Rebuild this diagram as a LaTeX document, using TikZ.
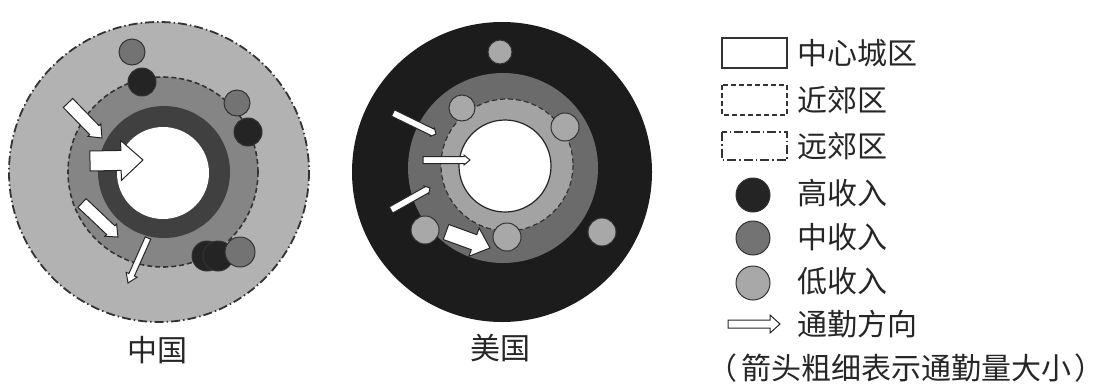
\documentclass[tikz,border=0pt]{standalone}
\usepackage{fontspec}
\newfontfamily\cjk{Noto Sans CJK SC}
\definecolor{fargray}{gray}{0.70}
\definecolor{neargray}{gray}{0.52}
\definecolor{citydark}{gray}{0.25}
\definecolor{hiinc}{gray}{0.14}
\definecolor{midinc}{gray}{0.45}
\definecolor{lowinc}{gray}{0.66}
\definecolor{usouter}{gray}{0.11}
\definecolor{usmid}{gray}{0.42}
\definecolor{usinner}{gray}{0.64}
\tikzset{
  arrowst/.style={fill=white, draw=black!85, line width=1pt, line join=miter},
  lbl/.style={font=\cjk\fontsize{30}{34}\selectfont, inner sep=0pt, text=black!85},
  incst/.style={draw=black!80, line width=1pt},
  farline/.style={draw=black!80, line width=1.8pt, dash pattern=on 9pt off 3pt on 1.5pt off 3pt},
  nearline/.style={draw=black!80, line width=1.6pt, dash pattern=on 5pt off 3pt},
  legbox/.style={draw=black!80, line width=1.8pt},
}
% x1 y1 x2 y2 shaft-half-width head-half-width head-length
\newcommand\fatarr[7]{%
  \pgfmathsetmacro\myang{atan2(-(#4-#2),#3-#1)}%
  \pgfmathsetmacro\mylen{veclen(#3-#1,#4-#2)}%
  \pgfmathsetmacro\mybase{\mylen-#7}%
  \begin{scope}[shift={(#1,#2)}, rotate=\myang]
    \draw[arrowst] (0,-#5) -- (\mybase,-#5) -- (\mybase,-#6) -- (\mylen,0)
      -- (\mybase,#6) -- (\mybase,#5) -- (0,#5) -- cycle;
  \end{scope}}
\begin{document}
\begin{tikzpicture}[x=1pt,y=-1pt]
\useasboundingbox (0,0) rectangle (1107,389);
% ---------- China ----------
\coordinate (cnO) at (159,172);
\coordinate (cnN) at (163,172);
\coordinate (cnC) at (164,172);
\fill[fargray] (cnO) circle (150);
\draw[farline] (cnO) circle (150);
\fill[neargray] (cnN) circle (95);
\draw[nearline] (cnN) circle (95);
\fill[citydark] (cnC) circle (66);
\fill[white] (163,173) circle (46);
% income circles
\filldraw[incst, fill=midinc] (132,52) circle (13);
\filldraw[incst, fill=hiinc] (142,82) circle (14);
\filldraw[incst, fill=midinc] (237,103) circle (13);
\filldraw[incst, fill=hiinc] (248,132) circle (14);
\filldraw[incst, fill=hiinc] (207,256) circle (15);
\filldraw[incst, fill=hiinc] (218,256) circle (15);
\filldraw[incst, fill=midinc] (240,252) circle (15);
% arrows
\fatarr{68}{103}{102}{138}{6.5}{9}{11}
\fatarr{90}{161}{143}{160}{10}{20}{22}
\fatarr{82}{203}{118}{237}{6}{8.5}{10}
\fatarr{148}{238}{128}{283}{3}{6}{9}
\node[lbl] (cnlabel) at (157,350) {中国};
% ---------- USA ----------
\fill[usouter] (502,172) circle (150);
\fill[usmid] (503,168) circle (95);
\fill[usinner] (507,165) circle (66);
\draw[nearline, line width=1.2pt] (507,165) circle (66);
\filldraw[draw=black!85, line width=1.2pt, fill=white] (505,166) circle (46);
\filldraw[incst, fill=lowinc] (500,52) circle (12);
\filldraw[incst, fill=lowinc] (462,108) circle (13);
\filldraw[incst, fill=lowinc] (565,127) circle (14);
\filldraw[incst, fill=lowinc] (425,230) circle (14);
\filldraw[incst, fill=lowinc] (507,237) circle (14);
\filldraw[incst, fill=lowinc] (602,232) circle (14);
\fatarr{393}{113}{436}{134}{3.5}{4.5}{4}
\fatarr{423}{160}{470}{160}{3.5}{5}{6}
\fatarr{391}{210}{430}{188}{3.5}{4.5}{4}
\fatarr{446}{232}{490}{248}{8}{15}{17}
\node[lbl] (uslabel) at (500,348) {美国};
% ---------- legend ----------
\draw[legbox] (722,38) rectangle (787,68);
\draw[legbox, dash pattern=on 5pt off 3pt] (722,85) rectangle (787,115);
\draw[legbox, dash pattern=on 9pt off 3pt on 1.5pt off 3pt] (722,132) rectangle (787,160);
\filldraw[incst, fill=hiinc] (753,195) circle (17);
\filldraw[incst, fill=midinc] (753,238) circle (17);
\filldraw[incst, fill=lowinc] (753,283) circle (17);
\fatarr{728}{324}{780}{324}{4}{9}{10}
\node[lbl, anchor=west] (t1) at (797,53) {中心城区};
\node[lbl, anchor=west] (t2) at (797,100) {近郊区};
\node[lbl, anchor=west] (t3) at (797,146) {远郊区};
\node[lbl, anchor=west] (t4) at (797,193) {高收入};
\node[lbl, anchor=west] (t5) at (797,237) {中收入};
\node[lbl, anchor=west] (t6) at (797,281) {低收入};
\node[lbl, anchor=west] (t7) at (797,324) {通勤方向};
\node[lbl] (t8) at (906,368) {（\hspace{4pt}箭头粗细表示通勤量大小\hspace{4pt}）};
\end{tikzpicture}
\end{document}
